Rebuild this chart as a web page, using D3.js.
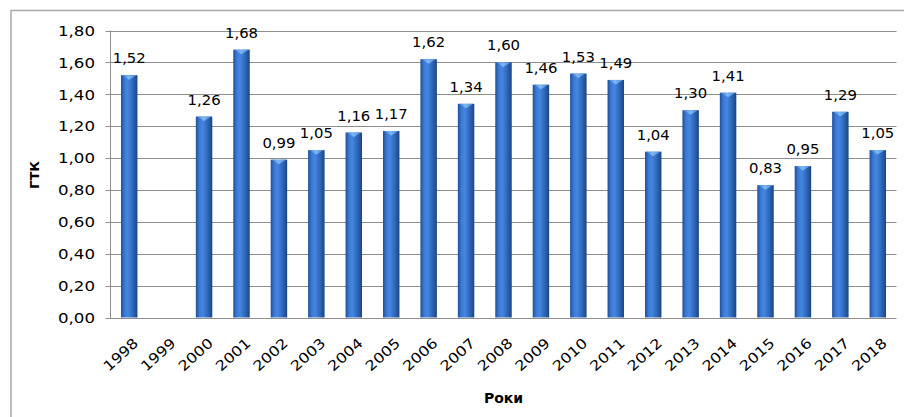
<!DOCTYPE html>
<html>
<head>
<meta charset="utf-8">
<script src="https://cdn.jsdelivr.net/npm/d3@7"></script>
<style>
  html, body { margin: 0; padding: 0; background: #ffffff; }
  svg { display: block; }
  text { font-family: "DejaVu Sans", sans-serif; fill: #000; }
</style>
</head>
<body>
<svg id="chart" width="904" height="417"></svg>
<script>
// Hydrothermal coefficient (ГТК) by year
const years = ["1998","1999","2000","2001","2002","2003","2004","2005","2006","2007","2008","2009","2010","2011","2012","2013","2014","2015","2016","2017","2018"];
const gtk = [1.52, null, 1.26, 1.68, 0.99, 1.05, 1.16, 1.17, 1.62, 1.34, 1.60, 1.46, 1.53, 1.49, 1.04, 1.30, 1.41, 0.83, 0.95, 1.29, 1.05];
const yTicks = [0, 0.2, 0.4, 0.6, 0.8, 1.0, 1.2, 1.4, 1.6, 1.8];
const yTitle = "ГТК";
const xTitle = "Роки";

const svg = d3.select("#chart");
const plot = { left: 110.5, right: 896.5, top: 30.5, bottom: 317.5 };

const fmt = v => d3.format(".2f")(v).replace(".", ",");

// Outer chart frame
svg.append("path")
  .attr("d", `M11,417 L11,10.5 L904,10.5`)
  .attr("fill", "none")
  .attr("stroke", "#a9a9a9")
  .attr("stroke-width", 1.5);

const x = d3.scaleBand()
  .domain(years)
  .range([plot.left, plot.right])
  .paddingInner(0.56)
  .paddingOuter(0.28);

const y = d3.scaleLinear()
  .domain([0, 1.8])
  .range([plot.bottom, plot.top]);

// Bar shading: cylinder-like horizontal gradient
const defs = svg.append("defs");
const g1 = defs.append("linearGradient").attr("id", "barFill")
  .attr("x1", "0%").attr("x2", "100%").attr("y1", "0%").attr("y2", "0%");
[["0%", "#1f4f98"], ["22%", "#3b7ad6"], ["42%", "#4586df"], ["70%", "#3069bd"], ["100%", "#1c4582"]]
  .forEach(([o, c]) => g1.append("stop").attr("offset", o).attr("stop-color", c));
const g2 = defs.append("linearGradient").attr("id", "capFill")
  .attr("x1", "0%").attr("x2", "100%").attr("y1", "0%").attr("y2", "0%");
[["0%", "#3f7fd4"], ["45%", "#7fb8f2"], ["100%", "#4a88d8"]]
  .forEach(([o, c]) => g2.append("stop").attr("offset", o).attr("stop-color", c));

// Gridlines
svg.append("g")
  .selectAll("line")
  .data(yTicks)
  .join("line")
  .attr("x1", plot.left - 5)
  .attr("x2", plot.right)
  .attr("y1", d => Math.round(y(d)) + 0.5)
  .attr("y2", d => Math.round(y(d)) + 0.5)
  .attr("stroke", "#8e8e8e")
  .attr("stroke-width", 1);

// Y axis line
svg.append("line")
  .attr("x1", plot.left).attr("x2", plot.left)
  .attr("y1", plot.top).attr("y2", plot.bottom + 0.5)
  .attr("stroke", "#8e8e8e");

// Y tick labels
svg.append("g")
  .selectAll("text")
  .data(yTicks)
  .join("text")
  .attr("transform", d => `translate(95,${y(d)}) scale(1.15,1)`)
  .attr("text-anchor", "end")
  .attr("dy", "0.36em")
  .style("font-size", "14.5px")
  .text(d => fmt(d));

// Bars
const bars = years.map((yr, i) => ({ yr, v: gtk[i] })).filter(d => d.v != null);
const bw = x.bandwidth();

svg.append("g")
  .selectAll("rect")
  .data(bars)
  .join("rect")
  .attr("x", d => x(d.yr))
  .attr("y", d => y(d.v))
  .attr("width", bw)
  .attr("height", d => y(0) - y(d.v))
  .attr("fill", "url(#barFill)");

// Bar top caps
svg.append("g")
  .selectAll("path")
  .data(bars)
  .join("path")
  .attr("d", d => {
    const x0 = x(d.yr), t = y(d.v);
    return `M${x0 + 1},${t} L${x0 + bw - 1},${t} L${x0 + bw / 2},${t + 4.5} Z`;
  })
  .attr("fill", "url(#capFill)");

// Value labels
svg.append("g")
  .selectAll("text")
  .data(bars)
  .join("text")
  .attr("transform", d => `translate(${x(d.yr) + bw / 2},${y(d.v) - 12}) scale(1.1,1)`)
  .attr("text-anchor", "middle")
  .style("font-size", "13.5px")
  .text(d => fmt(d.v));

// X tick labels, rotated
svg.append("g")
  .selectAll("text")
  .data(years)
  .join("text")
  .attr("transform", d => `translate(${x(d) + bw / 2 + 10},${plot.bottom + 27}) rotate(-42) scale(1.15,1)`)
  .attr("text-anchor", "end")
  .style("font-size", "14px")
  .text(d => d);

// Axis titles
svg.append("text")
  .attr("transform", `translate(39,175) rotate(-90)`)
  .attr("text-anchor", "middle")
  .style("font-size", "13px")
  .style("font-weight", "bold")
  .text(yTitle);

svg.append("text")
  .attr("x", (plot.left + plot.right) / 2)
  .attr("y", 403)
  .attr("text-anchor", "middle")
  .style("font-size", "14px")
  .style("font-weight", "bold")
  .text(xTitle);
</script>
</body>
</html>
